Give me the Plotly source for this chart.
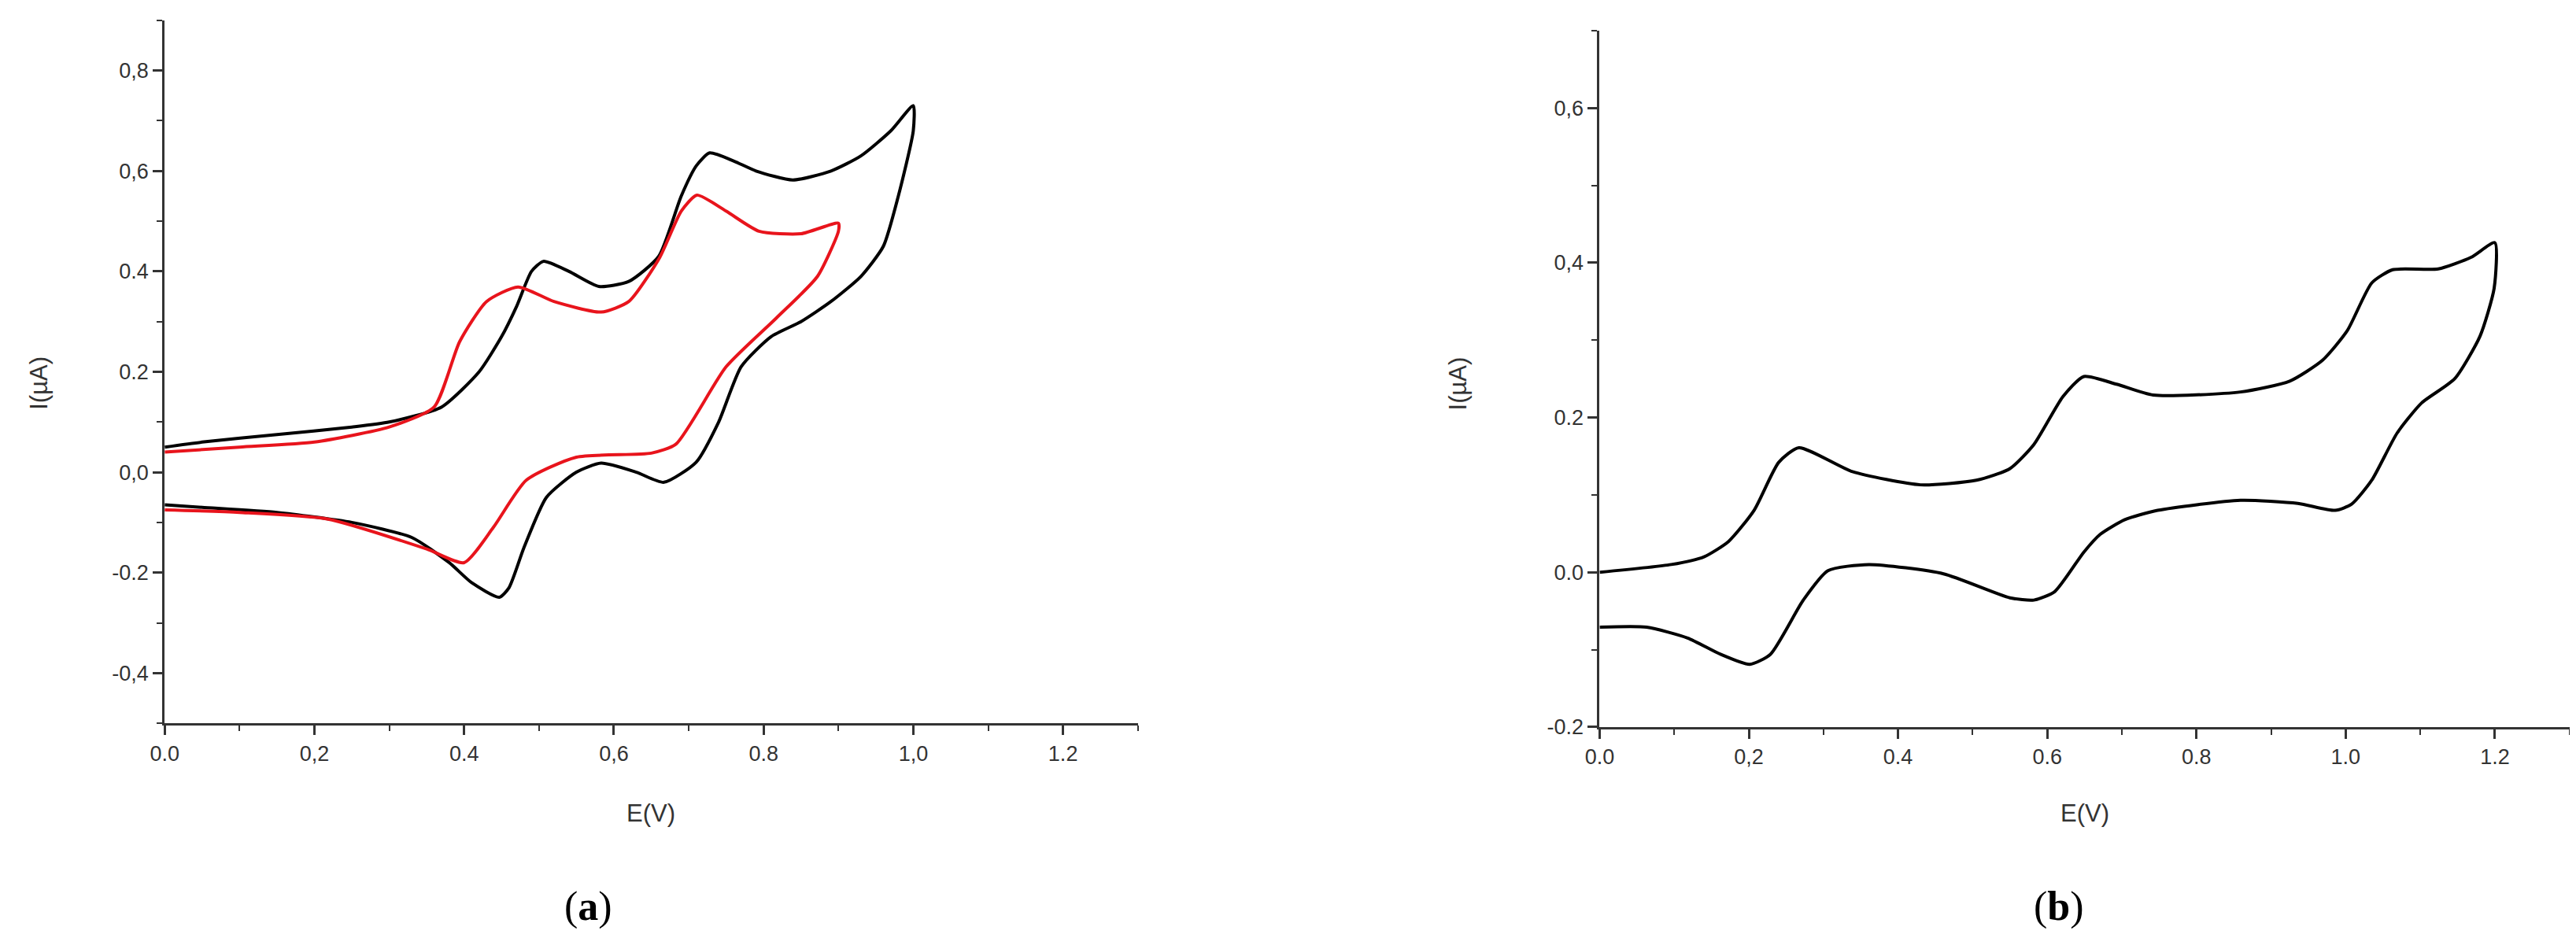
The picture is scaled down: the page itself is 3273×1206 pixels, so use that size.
import plotly.graph_objects as go

# Panel (a) black curve
a_black_E = [0, 0.05, 0.15, 0.25, 0.30, 0.37, 0.42, 0.45, 0.47, 0.49, 0.506, 0.54, 0.58, 0.62, 0.66, 0.69, 0.71, 0.728, 0.76, 0.79, 0.839, 0.89, 0.93, 0.97, 1.0,
             1.0, 0.98, 0.96, 0.93, 0.89, 0.85, 0.81, 0.77, 0.74, 0.71, 0.667, 0.63, 0.583, 0.55, 0.51, 0.48, 0.46, 0.447, 0.41, 0.38, 0.33, 0.25, 0.15, 0.05, 0]
a_black_I = [0.05, 0.06, 0.075, 0.09, 0.10, 0.13, 0.20, 0.27, 0.33, 0.40, 0.42, 0.40, 0.37, 0.38, 0.43, 0.55, 0.61, 0.636, 0.62, 0.60, 0.582, 0.60, 0.63, 0.68, 0.73,
             0.68, 0.55, 0.45, 0.39, 0.34, 0.30, 0.27, 0.21, 0.10, 0.02, -0.02, 0.0, 0.018, 0.0, -0.05, -0.15, -0.23, -0.249, -0.22, -0.18, -0.13, -0.10, -0.08, -0.07, -0.065]
# Panel (a) red curve
a_red_E = [0, 0.1, 0.2, 0.3, 0.36, 0.394, 0.43, 0.472, 0.52, 0.583, 0.62, 0.661, 0.69, 0.711, 0.75, 0.794, 0.85, 0.9,
           0.9, 0.872, 0.817, 0.75, 0.683, 0.65, 0.55, 0.483, 0.439, 0.40, 0.35, 0.217, 0.1, 0]
a_red_I = [0.04, 0.05, 0.06, 0.09, 0.13, 0.26, 0.34, 0.369, 0.34, 0.319, 0.34, 0.427, 0.52, 0.552, 0.52, 0.48, 0.475, 0.496,
           0.48, 0.39, 0.307, 0.21, 0.056, 0.038, 0.03, -0.016, -0.11, -0.18, -0.153, -0.093, -0.08, -0.075]
# Panel (b) curve
b_E = [0, 0.096, 0.14, 0.173, 0.207, 0.24, 0.267, 0.339, 0.43, 0.505, 0.55, 0.582, 0.621, 0.649, 0.693, 0.742, 0.859, 0.925, 0.969, 1.002, 1.035, 1.063, 1.124, 1.168, 1.2,
       1.199, 1.18, 1.146, 1.102, 1.069, 1.035, 1.008, 0.986, 0.936, 0.859, 0.748, 0.704, 0.671, 0.649, 0.61, 0.582, 0.55, 0.461, 0.361, 0.306, 0.273, 0.229, 0.201, 0.162, 0.118, 0.063, 0]
b_I = [0, 0.01, 0.02, 0.04, 0.08, 0.142, 0.161, 0.13, 0.113, 0.119, 0.134, 0.165, 0.227, 0.253, 0.243, 0.229, 0.233, 0.247, 0.274, 0.312, 0.374, 0.391, 0.392, 0.407, 0.426,
       0.367, 0.305, 0.25, 0.219, 0.18, 0.119, 0.088, 0.08, 0.089, 0.093, 0.08, 0.068, 0.049, 0.026, -0.025, -0.036, -0.033, -0.002, 0.01, 0.002, -0.036, -0.106, -0.119, -0.106, -0.085, -0.071, -0.071]

a_xticks = [0, 0.2, 0.4, 0.6, 0.8, 1.0, 1.2]
a_xlabels = ["0.0", "0,2", "0.4", "0,6", "0.8", "1,0", "1.2"]
a_yticks = [-0.4, -0.2, 0, 0.2, 0.4, 0.6, 0.8]
a_ylabels = ["-0,4", "-0.2", "0,0", "0.2", "0.4", "0,6", "0,8"]
b_xticks = [0, 0.2, 0.4, 0.6, 0.8, 1.0, 1.2]
b_xlabels = ["0.0", "0,2", "0.4", "0.6", "0.8", "1.0", "1.2"]
b_yticks = [-0.2, 0, 0.2, 0.4, 0.6]
b_ylabels = ["-0.2", "0.0", "0.2", "0,4", "0,6"]

fig = go.Figure()
fig.add_trace(go.Scatter(x=a_black_E, y=a_black_I, mode="lines", line=dict(color="black", width=4, shape="spline", smoothing=0.6), xaxis="x", yaxis="y"))
fig.add_trace(go.Scatter(x=a_red_E, y=a_red_I, mode="lines", line=dict(color="#e8141c", width=4, shape="spline", smoothing=0.6), xaxis="x", yaxis="y"))
fig.add_trace(go.Scatter(x=b_E, y=b_I, mode="lines", line=dict(color="black", width=4, shape="spline", smoothing=0.6), xaxis="x2", yaxis="y2"))

tickfont = dict(family="Liberation Sans, Arial", size=27, color="#333")
common = dict(showgrid=False, zeroline=False, showline=True, linecolor="#333", linewidth=3,
              ticks="outside", ticklen=12, tickwidth=3, tickcolor="#333", tickfont=tickfont,
              minor=dict(ticks="outside", ticklen=7, tickwidth=2, tickcolor="#333"))

ax_l = [0.056, 0.436]
ax_r = [0.6163, 0.995]
fig.update_layout(
    width=3273, height=1206, margin=dict(l=0, r=0, t=0, b=0),
    paper_bgcolor="white", plot_bgcolor="white", showlegend=False,
    xaxis=dict(domain=ax_l, range=[0, 1.3], tickvals=a_xticks, ticktext=a_xlabels, anchor="y", minor_dtick=0.1, **common),
    yaxis=dict(domain=[0.235, 0.985], range=[-0.5, 0.9], tickvals=a_yticks, ticktext=a_ylabels, anchor="x", minor_dtick=0.1, **common),
    xaxis2=dict(domain=ax_r, range=[0, 1.3], tickvals=b_xticks, ticktext=b_xlabels, anchor="y2", minor_dtick=0.1, **common),
    yaxis2=dict(domain=[0.231, 0.974], range=[-0.2, 0.7], tickvals=b_yticks, ticktext=b_ylabels, anchor="x2", minor_dtick=0.1, **common),
)

tf = dict(family="Liberation Sans, Arial", size=31, color="#333")
ann = [
    dict(text="E(V)", x=sum(ax_l) / 2, y=1 - 1038 / 1206, font=tf),
    dict(text="E(V)", x=sum(ax_r) / 2, y=1 - 1038 / 1206, font=tf),
    dict(text="I(µA)", x=0.007, y=1 - 485 / 1206, textangle=-90, font=tf),
    dict(text="I(µA)", x=0.561, y=1 - 485 / 1206, textangle=-90, font=tf),
    dict(text="(<b>a</b>)", x=0.2213, y=1 - 1158 / 1206, font=dict(family="Liberation Serif", size=52, color="black")),
    dict(text="(<b>b</b>)", x=0.7957, y=1 - 1158 / 1206, font=dict(family="Liberation Serif", size=52, color="black")),
]
for a in ann:
    a.update(xref="paper", yref="paper", showarrow=False, xanchor="center", yanchor="middle")
fig.update_layout(annotations=ann)

fig.write_html("out.html")
